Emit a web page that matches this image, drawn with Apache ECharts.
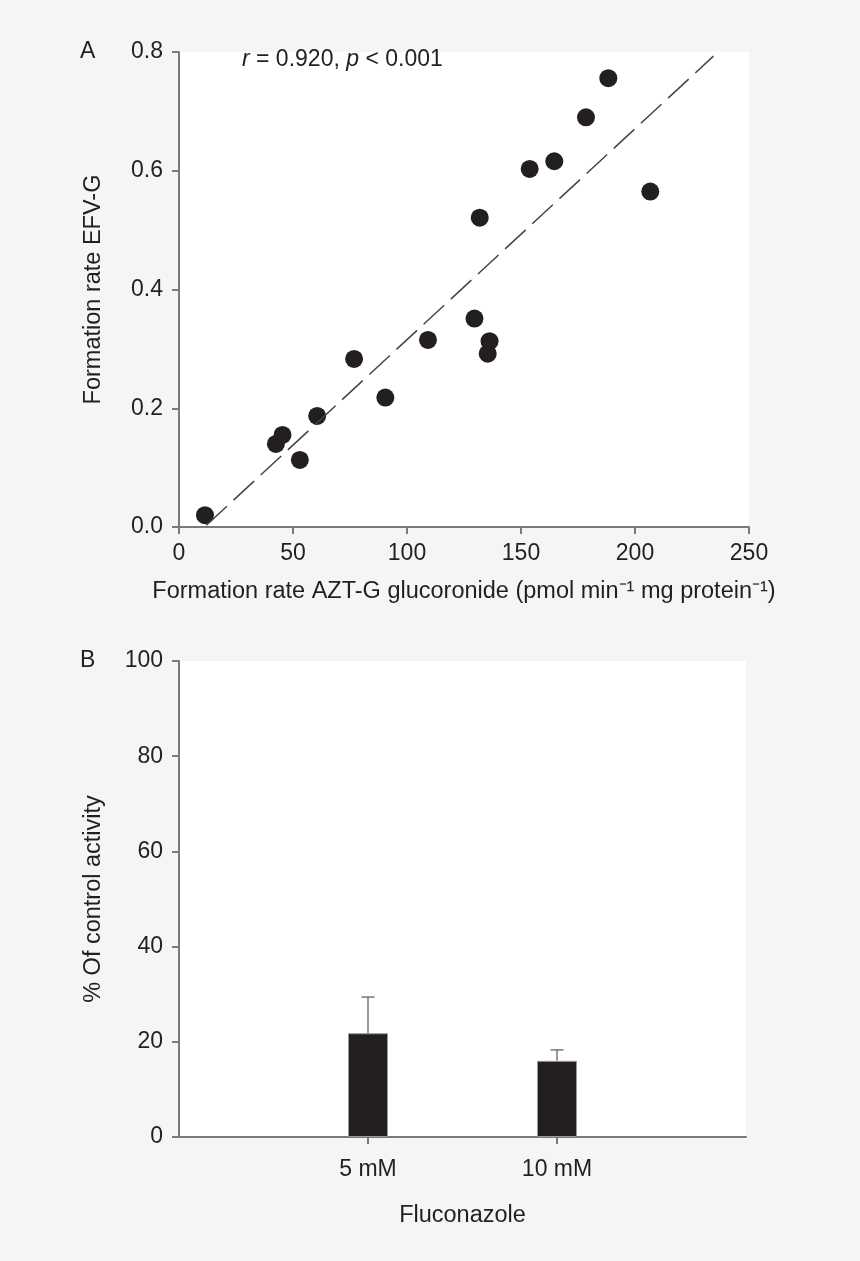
<!DOCTYPE html>
<html>
<head>
<meta charset="utf-8">
<script src="https://cdn.jsdelivr.net/npm/echarts@6/dist/echarts.min.js"></script>
<style>
  html, body { margin: 0; padding: 0; background: #f5f5f5; }
  #main { width: 860px; height: 1261px; }
</style>
</head>
<body>
<div id="main"></div>
<script>
// panel A - correlation data
const aztRate = [11.4, 42.5, 45.4, 53, 60.6, 76.8, 90.5, 109.2, 129.6, 136.2, 135.4, 131.9, 153.8, 164.6, 178.5, 188.3, 206.7];
const efvRate = [0.02, 0.14, 0.155, 0.113, 0.187, 0.283, 0.218, 0.315, 0.351, 0.313, 0.292, 0.521, 0.603, 0.616, 0.69, 0.756, 0.565];
const fitX = [12, 234.4];
const fitY = [0.003, 0.793];
const xTicksA = [0, 250, 50];
const yTicksA = [0, 0.8, 0.2];

// panel B - inhibition data
const doses = ['5 mM', '10 mM'];
const pctActivity = [21.8, 16.0];
const pctSd = [7.6, 2.3];
const yTicksB = [0, 100, 20];

const txt = '#231f20';
const axisCol = '#7a7a7a';
const font = 'Liberation Sans, Arial, sans-serif';

var dom = document.getElementById('main');
var myChart = echarts.init(dom, null, { renderer: 'canvas' });

const scatterData = aztRate.map((x, i) => [x, efvRate[i]]);
const fitData = fitX.map((x, i) => [x, fitY[i]]);
const catB = [''].concat(doses, ['']);
const barData = ['-'].concat(pctActivity, ['-']);
const errData = doses.map((d, i) => [d, pctActivity[i], pctActivity[i] + pctSd[i]]);

function axisCommon() {
  return {
    axisLine: { show: true, lineStyle: { color: axisCol, width: 2 } },
    axisTick: { show: true, length: 7, lineStyle: { color: axisCol, width: 2 } },
    splitLine: { show: false },
    axisLabel: { color: txt, fontSize: 23, fontFamily: font },
    nameTextStyle: { color: txt, fontSize: 23.5, fontFamily: font }
  };
}

var option = {
  backgroundColor: '#f5f5f5',
  animation: false,
  textStyle: { fontFamily: font },
  grid: [
    { left: 179, right: 111, top: 52, bottom: 734, show: true, backgroundColor: '#fff', borderWidth: 0 },
    { left: 179, right: 114, top: 661, bottom: 124, show: true, backgroundColor: '#fff', borderWidth: 0 }
  ],
  xAxis: [
    Object.assign(axisCommon(), {
      gridIndex: 0, type: 'value',
      min: xTicksA[0], max: xTicksA[1], interval: xTicksA[2],
      name: 'Formation rate AZT-G glucoronide (pmol min\u207B\u00B9 mg protein\u207B\u00B9)',
      nameLocation: 'middle', nameGap: 53
    }),
    Object.assign(axisCommon(), {
      gridIndex: 1, type: 'category', data: catB, boundaryGap: false,
      name: 'Fluconazole', nameLocation: 'middle', nameGap: 67
    })
  ],
  yAxis: [
    Object.assign(axisCommon(), {
      gridIndex: 0, type: 'value',
      min: yTicksA[0], max: yTicksA[1], interval: yTicksA[2],
      name: 'Formation rate EFV-G', nameLocation: 'middle', nameGap: 73
    }),
    Object.assign(axisCommon(), {
      gridIndex: 1, type: 'value',
      min: yTicksB[0], max: yTicksB[1], interval: yTicksB[2],
      name: '% Of control activity', nameLocation: 'middle', nameGap: 73
    })
  ],
  graphic: [
    { type: 'text', left: 80, top: 40, style: { text: 'A', fill: txt, font: '23px ' + font } },
    { type: 'text', left: 80, top: 649, style: { text: 'B', fill: txt, font: '23px ' + font } },
    {
      type: 'text', left: 242, top: 48,
      style: {
        text: '{i|r} = 0.920, {i|p} < 0.001',
        fill: txt, font: '23px ' + font,
        rich: { i: { fontStyle: 'italic', fontSize: 23, fontFamily: font, fill: txt } }
      }
    }
  ],
  series: [
    {
      type: 'line', xAxisIndex: 0, yAxisIndex: 0,
      data: fitData, symbol: 'none', silent: true,
      lineStyle: { color: '#444', width: 1.5, type: [28, 9] }
    },
    {
      type: 'scatter', xAxisIndex: 0, yAxisIndex: 0,
      data: scatterData, symbolSize: 18,
      itemStyle: { color: txt, opacity: 1 }
    },
    {
      type: 'bar', xAxisIndex: 1, yAxisIndex: 1,
      data: barData, barWidth: 40,
      itemStyle: { color: txt, borderColor: '#999', borderWidth: 1 }
    },
    {
      type: 'custom', xAxisIndex: 1, yAxisIndex: 1, data: errData, z: 1,
      renderItem: function (params, api) {
        var base = api.coord([api.value(0), api.value(1)]);
        var top = api.coord([api.value(0), api.value(2)]);
        var st = { stroke: '#777', lineWidth: 1.5 };
        return {
          type: 'group',
          children: [
            { type: 'line', shape: { x1: base[0], y1: base[1], x2: top[0], y2: top[1] }, style: st },
            { type: 'line', shape: { x1: top[0] - 6.5, y1: top[1], x2: top[0] + 6.5, y2: top[1] }, style: st }
          ]
        };
      }
    }
  ]
};

// hide ticks/labels at the empty ends of the dose axis
option.xAxis[1].axisTick.interval = function (idx, val) { return val !== ''; };
option.xAxis[1].axisLabel.interval = function (idx, val) { return val !== ''; };
option.xAxis[1].axisLabel.margin = 21;
option.xAxis[0].axisLabel.margin = 15;
option.yAxis[0].axisLabel.margin = 16;
option.yAxis[0].axisLabel.formatter = function (v) { return v.toFixed(1); };
option.yAxis[1].axisLabel.margin = 16;

if (option && typeof option === 'object') {
  myChart.setOption(option);
}

window.addEventListener('resize', myChart.resize);
</script>
</body>
</html>
